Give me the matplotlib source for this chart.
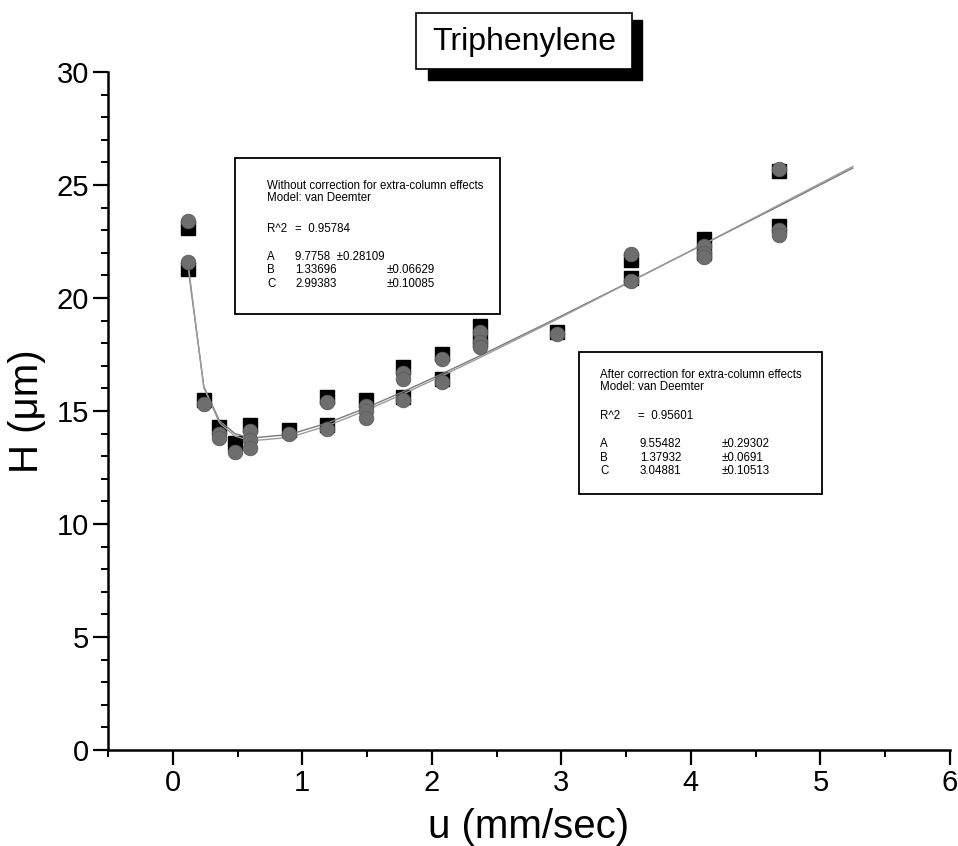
import matplotlib
matplotlib.use("Agg")
import matplotlib.pyplot as plt
from matplotlib.patches import Rectangle
from matplotlib.ticker import MultipleLocator

plt.rcParams['font.family'] = ['Liberation Sans', 'DejaVu Sans']

# Without correction for extra-column effects (black squares)
u_raw = [0.12, 0.12, 0.24, 0.36, 0.48, 0.60, 0.90, 1.19, 1.19, 1.49, 1.78, 1.78,
         2.08, 2.08, 2.37, 2.37, 2.97, 3.54, 3.54, 4.10, 4.10, 4.68, 4.68]
H_raw = [23.1, 21.3, 15.5, 14.3, 13.6, 14.4, 14.15, 15.6, 14.4, 15.5, 16.95, 15.6,
         17.5, 16.4, 18.75, 18.15, 18.5, 21.7, 20.9, 22.6, 22.0, 25.6, 23.2]

# After correction for extra-column effects (grey circles)
u_corr = [0.12, 0.12, 0.24, 0.36, 0.36, 0.48, 0.60, 0.60, 0.60, 0.90, 1.19, 1.19,
          1.49, 1.49, 1.49, 1.78, 1.78, 1.78, 2.08, 2.08, 2.37, 2.37, 2.37, 2.97,
          3.54, 3.54, 4.10, 4.10, 4.10, 4.68, 4.68, 4.68]
H_corr = [23.4, 21.6, 15.3, 14.0, 13.8, 13.2, 14.1, 13.7, 13.35, 14.0, 15.4, 14.2,
          15.2, 15.0, 14.7, 16.7, 16.4, 15.5, 17.3, 16.3, 18.5, 18.05, 17.85, 18.4,
          21.95, 20.75, 22.3, 22.0, 21.8, 25.7, 23.0, 22.8]

# van Deemter fit curves
u_fit = [0.12, 0.24, 0.36, 0.48, 0.60, 0.90, 1.19, 1.49, 1.78, 2.08, 2.37, 2.97,
         3.54, 4.10, 4.68, 5.25]
H_fit_raw = [21.28, 16.07, 14.57, 14.00, 13.80, 13.96, 14.46, 15.13, 15.86, 16.65,
             17.44, 19.12, 20.75, 22.38, 24.07, 25.75]
H_fit_corr = [21.42, 16.03, 14.48, 13.89, 13.68, 13.83, 14.34, 15.02, 15.76, 16.56,
              17.36, 19.07, 20.74, 22.39, 24.12, 25.82]

x_ticks = [0, 1, 2, 3, 4, 5, 6]
y_ticks = [0, 5, 10, 15, 20, 25, 30]

W, H = 958, 846
fig = plt.figure(figsize=(W / 100, H / 100), dpi=100)
ax = fig.add_axes([108 / W, 1 - 750 / H, (950 - 108) / W, (750 - 72) / H])

ax.plot(u_raw, H_raw, linestyle='none', marker='s', markersize=10,
        color='black', zorder=2)
ax.plot(u_fit, H_fit_raw, color='#7a7a7a', lw=1.0, zorder=3)
ax.plot(u_fit, H_fit_corr, color='#9a9a9a', lw=1.0, zorder=3)
ax.plot(u_corr, H_corr, linestyle='none', marker='o', markersize=10.5,
        color='#6e6e6e', markeredgecolor='#5c5c5c', markeredgewidth=0.6, zorder=4)

ax.set_xlim(-0.5, 6)
ax.set_ylim(0, 30)
ax.set_xticks(x_ticks)
ax.set_yticks(y_ticks)
ax.xaxis.set_minor_locator(MultipleLocator(0.5))
ax.yaxis.set_minor_locator(MultipleLocator(1))
ax.spines['top'].set_visible(False)
ax.spines['right'].set_visible(False)
ax.spines['left'].set_linewidth(1.8)
ax.spines['bottom'].set_linewidth(1.8)
ax.tick_params(axis='both', which='major', direction='out', length=10.5, width=1.6,
               labelsize=21, pad=3)
ax.tick_params(axis='both', which='minor', direction='out', length=5, width=1.4)
ax.set_xlabel('u (mm/sec)', fontsize=29, labelpad=8)
ax.set_ylabel('H (\u03bcm)', fontsize=29, labelpad=8)


def fx(px):
    return px / W


def fy(py):
    return 1 - py / H


# Title box with drop shadow
fig.patches.append(Rectangle((fx(428), fy(80)), fx(642) - fx(428), fy(20) - fy(80),
                             transform=fig.transFigure, facecolor='black',
                             edgecolor='black', zorder=5))
fig.patches.append(Rectangle((fx(416), fy(69)), fx(632) - fx(416), fy(13) - fy(69),
                             transform=fig.transFigure, facecolor='white',
                             edgecolor='black', lw=1.2, zorder=6))
fig.text(fx(524), fy(42), 'Triphenylene', fontsize=23, ha='center', va='center',
         zorder=7)

# Fit result boxes
fig.patches.append(Rectangle((fx(235), fy(314)), fx(500) - fx(235), fy(158) - fy(314),
                             transform=fig.transFigure, facecolor='white',
                             edgecolor='black', lw=1.3, zorder=5))
fs = 8.3
t1 = [(267, 186, 'Without correction for extra-column effects'),
      (267, 198, 'Model: van Deemter'),
      (267, 229, 'R^2'), (295, 229, '=  0.95784'),
      (267, 257, 'A'), (295, 257, '9.7758  \u00b10.28109'),
      (267, 270, 'B'), (295, 270, '1.33696'), (387, 270, '\u00b10.06629'),
      (267, 284, 'C'), (295, 284, '2.99383'), (387, 284, '\u00b10.10085')]
for x, y, s in t1:
    fig.text(fx(x), fy(y), s, fontsize=fs, ha='left', va='center', zorder=6)

fig.patches.append(Rectangle((fx(579), fy(494)), fx(822) - fx(579), fy(352) - fy(494),
                             transform=fig.transFigure, facecolor='white',
                             edgecolor='black', lw=1.3, zorder=5))
t2 = [(600, 375, 'After correction for extra-column effects'),
      (600, 387, 'Model: van Deemter'),
      (600, 416, 'R^2'), (638, 416, '=  0.95601'),
      (600, 444, 'A'), (640, 444, '9.55482'), (722, 444, '\u00b10.29302'),
      (600, 458, 'B'), (640, 458, '1.37932'), (722, 458, '\u00b10.0691'),
      (600, 471, 'C'), (640, 471, '3.04881'), (722, 471, '\u00b10.10513')]
for x, y, s in t2:
    fig.text(fx(x), fy(y), s, fontsize=fs, ha='left', va='center', zorder=6)

fig.savefig('out.png', dpi=100)
